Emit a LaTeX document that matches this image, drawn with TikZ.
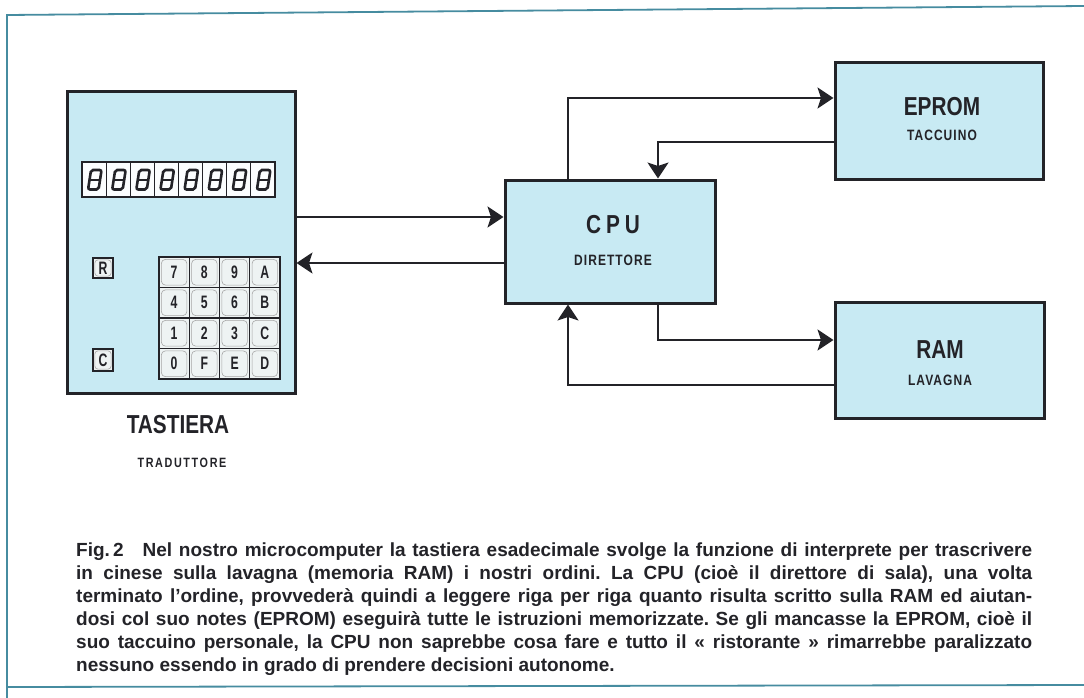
\documentclass[tikz,border=0pt]{standalone}
\usepackage{fontspec}
\setmainfont{Liberation Sans}
\newfontfamily\cond[FakeStretch=0.8]{Liberation Sans}
\newfontfamily\condsp[FakeStretch=0.8,LetterSpace=7]{Liberation Sans}
\newfontfamily\condwide[FakeStretch=0.8,LetterSpace=12]{Liberation Sans}
\newfontfamily\keyfont[FakeStretch=0.68]{Liberation Sans}
\usetikzlibrary{arrows.meta,calc}
\definecolor{boxfill}{RGB}{200,234,243}
\definecolor{framec}{RGB}{70,140,160}
\definecolor{ink}{RGB}{35,35,40}
\definecolor{keyfill}{RGB}{238,243,243}
\begin{document}
\begin{tikzpicture}[x=1pt,y=-1pt,
  blk/.style={draw=ink,line width=3pt,fill=boxfill,inner sep=0pt,rectangle},
  conn/.style={draw=ink,line width=2pt,-{Stealth[length=16pt,width=21pt,inset=3.5pt]}},
  bigl/.style={text=ink,font=\cond\bfseries\fontsize{26}{28}\selectfont,inner sep=0pt},
  smalll/.style={text=ink,font=\condsp\bfseries\fontsize{15}{17}\selectfont,inner sep=0pt},
  keybox/.style={draw=ink,line width=1.2pt,fill=keyfill,inner sep=0pt,minimum width=30.25pt,minimum height=30.5pt,text=ink,font=\keyfont\bfseries\fontsize{18}{20}\selectfont},
  keyin/.style={draw=gray!70,line width=0.6pt,rounded corners=4pt},
  dispcell/.style={draw=ink,line width=1.2pt,fill=white!92!boxfill,inner sep=0pt,minimum width=24.125pt,minimum height=35pt},
  digit/.style={draw=ink,line width=2.6pt,rounded corners=2pt},
  framel/.style={draw=framec,line width=1.8pt}]
\useasboundingbox (0,0) rectangle (1084,698);
% frame
\draw[framel] (7,698) -- (7,15) -- (1084,6);
\draw[framel] (7,687) -- (1084,685);
% blocks
\node[blk,minimum width=228pt,minimum height=301pt] (tast) at (181,242.5) {};
\node[blk,minimum width=210pt,minimum height=123pt] (cpu) at (610,241.5) {};
\node[blk,minimum width=208pt,minimum height=116pt] (eprom) at (939,121) {};
\node[blk,minimum width=209pt,minimum height=116pt] (ram) at (939.5,360) {};
% labels
\node[bigl] (cput) at (613,225) {C\hspace{5pt}P\hspace{5pt}U};
\node[smalll] (cpus) at (613,260) {DIRETTORE};
\node[bigl] (epromt) at (942,107) {EPROM};
\node[smalll] (eproms) at (942,135) {TACCUINO};
\node[bigl] (ramt) at (940,350) {RAM};
\node[smalll] (rams) at (940,380) {LAVAGNA};
\node[bigl] (tastt) at (178,425) {TASTIERA};
\node[smalll,font=\condwide\bfseries\fontsize{13.5}{15}\selectfont] (tasts) at (182,463) {TRADUTTORE};
% display
\foreach \i in {0,...,7}{
  \pgfmathsetmacro{\cx}{94.06+\i*24.125}
  \node[dispcell] (disp\i) at (\cx,179.5) {};
  \draw[digit] ($(disp\i.center)+(-6,10)$) -- ($(disp\i.center)+(4.5,10)$) -- ($(disp\i.center)+(7.5,-9.5)$) -- ($(disp\i.center)+(-3,-9.5)$) -- cycle;
  \draw[digit] ($(disp\i.center)+(-4.5,0.3)$) -- ($(disp\i.center)+(6,0.3)$);
}
% keypad
\foreach \lbl [count=\n from 0] in {7,8,9,A,4,5,6,B,1,2,3,C,0,F,E,D}{
  \pgfmathtruncatemacro{\r}{int(\n/4)}
  \pgfmathtruncatemacro{\c}{mod(\n,4)}
  \node[keybox] (key\n) at (174.1+\c*30.25,272.25+\r*30.5) {\lbl};
  \draw[keyin] ($(key\n.south west)+(3,-3)$) rectangle ($(key\n.north east)+(-3,3)$);
}
\node[keybox,minimum width=20pt,minimum height=20pt] (keyR) at (103,268) {R};
\draw[keyin,rounded corners=3pt] ($(keyR.south west)+(2.5,-2.5)$) rectangle ($(keyR.north east)+(-2.5,2.5)$);
\node[keybox,minimum width=20pt,minimum height=22pt] (keyC) at (103,360) {C};
\draw[keyin,rounded corners=3pt] ($(keyC.south west)+(2.5,-2.5)$) rectangle ($(keyC.north east)+(-2.5,2.5)$);
% helper coordinates
\coordinate (xa) at (568,0);
\coordinate (xb) at (658,0);
\coordinate (y1) at (0,217);
\coordinate (y2) at (0,263);
\coordinate (y3) at (0,98);
\coordinate (y4) at (0,142);
\coordinate (y5) at (0,340);
\coordinate (y6) at (0,385);
% connectors
\draw[conn] (tast.east |- y1) -- (cpu.west |- y1);
\draw[conn] (cpu.west |- y2) -- (tast.east |- y2);
\draw[conn] (cpu.north -| xa) |- (eprom.west |- y3);
\draw[conn] (eprom.west |- y4) -| (cpu.north -| xb);
\draw[conn] (cpu.south -| xb) |- (ram.west |- y5);
\draw[conn] (ram.west |- y6) -| (cpu.south -| xa);
% caption
\node[anchor=north west,text width=956pt,align=justify,inner sep=0pt,text=ink,font=\bfseries\fontsize{19}{23}\selectfont\frenchspacing] (cap) at (76,543) {Fig.\,2\quad Nel nostro microcomputer la tastiera esadecimale svolge la funzione di interprete per trascrivere\linebreak
in cinese sulla lavagna (memoria RAM) i nostri ordini. La CPU (cioè il direttore di sala), una volta\linebreak
terminato l’ordine, provvederà quindi a leggere riga per riga quanto risulta scritto sulla RAM ed aiutan-\linebreak
dosi col suo notes (EPROM) eseguirà tutte le istruzioni memorizzate. Se gli mancasse la EPROM, cioè il\linebreak
suo taccuino personale, la CPU non saprebbe cosa fare e tutto il « ristorante » rimarrebbe paralizzato\linebreak
nessuno essendo in grado di prendere decisioni autonome.};
\end{tikzpicture}
\end{document}
